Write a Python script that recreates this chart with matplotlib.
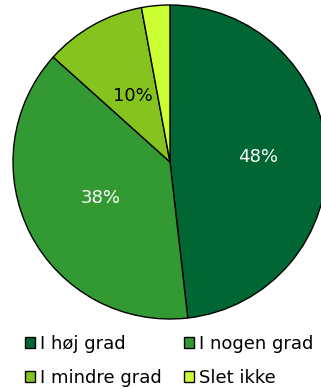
import numpy as np
import matplotlib.pyplot as plt

labels = ['I høj grad', 'I nogen grad', 'I mindre grad', 'Slet ikke']
values = [48.0, 38.3, 10.4, 2.9]
colors = ['#006633', '#339933', '#85C41E', '#CCFF33']
text_colors = ['white', 'white', 'black', None]
label_dist = [0.56, 0.5, 0.48, 0]

fig = plt.figure(figsize=(3.21, 3.90), dpi=100)
ax = fig.add_axes([13/321, 71/390, 314/321, 314/390])

wedges, _ = ax.pie(values, colors=colors, startangle=90, counterclock=False,
                   wedgeprops=dict(edgecolor='black', linewidth=1.0))
ax.set_xlim(-1, 1)
ax.set_ylim(-1, 1)
ax.set_aspect('equal')
ax.axis('off')

# percentage labels inside the slices
for w, v, c, d in zip(wedges, values, text_colors, label_dist):
    if c is None:
        continue
    mid = np.deg2rad((w.theta1 + w.theta2) / 2)
    ax.text(d * np.cos(mid), d * np.sin(mid), f'{v:.0f}%', color=c,
            ha='center', va='center', fontsize=13)

# legend rows read left to right
order = [0, 2, 1, 3]
fig.legend([wedges[i] for i in order], [labels[i] for i in order],
           loc='center left', bbox_to_anchor=(25/321, 29/390),
           ncol=2, frameon=False, fontsize=13, handlelength=0.55,
           handleheight=0.55, handletextpad=0.3, columnspacing=1.2,
           labelspacing=0.92, borderpad=0, borderaxespad=0)

fig.savefig('out.png', dpi=100)
